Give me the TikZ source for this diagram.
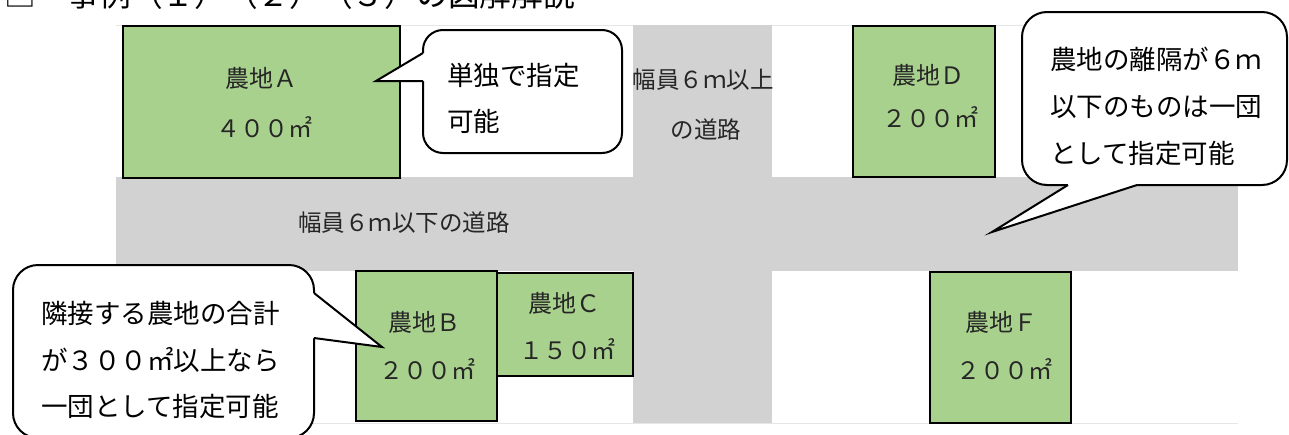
\documentclass[tikz,border=0pt]{standalone}
\usepackage{fontspec}
\newfontfamily\jp{Noto Sans CJK JP}
\definecolor{field}{HTML}{A9D18E}
\definecolor{road}{HTML}{D2D2D2}
\definecolor{frameline}{HTML}{E6E6E6}
\tikzset{
  roadbox/.style={fill=road,draw=none},
  fieldbox/.style={fill=field,draw=black,line width=2pt},
  lbl/.style={font=\jp\fontsize{24}{24}\selectfont,text=black!85,inner sep=0pt,text height=21.1pt,text depth=2.9pt},
  rlbl/.style={font=\jp\fontsize{23.5}{23.5}\selectfont,text=black!85,inner sep=0pt,text height=20.7pt,text depth=2.8pt},
  ctext/.style={font=\jp\fontsize{26.5}{26.5}\selectfont,text=black,inner sep=0pt,anchor=west,text height=23.3pt,text depth=3.2pt},
  callout/.style={draw=black,fill=white,line width=2pt,rounded corners=20pt},
  pointer/.style={draw=black,line width=2pt,line join=miter},
}
\begin{document}
\begin{tikzpicture}[x=1pt,y=-1pt]
\useasboundingbox (0,0) rectangle (1289,434);
\clip (0,0) rectangle (1289,434);
\fill[white] (0,0) rectangle (1289,434);
% title (cut off at top, as in the reference)
\node[anchor=base west,inner sep=0pt,font=\jp\fontsize{31.7}{31.7}\selectfont] (title) at (4,6.5) {□　事例（１）（２）（３）の図解解説};
% frame lines
\draw[frameline,line width=1pt] (116,25) -- (1238,25);
\draw[frameline,line width=1pt] (116,423) -- (1238,423);
% roads
\fill[roadbox] (116,177) rectangle (1238,271);
\fill[roadbox] (633,25) rectangle (772,423);
% fields
\draw[fieldbox] (123,26) rectangle (400,178);
\draw[fieldbox] (853,26) rectangle (995,177);
\draw[fieldbox] (356,271) rectangle (497,421);
\draw[fieldbox] (497,273) rectangle (633,376);
\draw[fieldbox] (930,272) rectangle (1071,423);
% field labels
\node[lbl] (a1) at (261,78) {農地Ａ};
\node[lbl] (a2) at (264,128) {４００㎡};
\node[lbl] (d1) at (928,75) {農地Ｄ};
\node[lbl] (d2) at (930,118) {２００㎡};
\node[lbl] (b1) at (424,322) {農地Ｂ};
\node[lbl] (b2) at (427,370) {２００㎡};
\node[lbl] (c1) at (564,303) {農地Ｃ};
\node[lbl] (c2) at (567,350) {１５０㎡};
\node[lbl] (f1) at (1001,322) {農地Ｆ};
\node[lbl] (f2) at (1004,370) {２００㎡};
% road labels
\node[rlbl] (rv1) at (703,80) {幅員６ｍ以上};
\node[rlbl] (rv2) at (706,130) {の道路};
\node[rlbl] (rh) at (404,223) {幅員６ｍ以下の道路};
% callout A
\draw[callout] (423,30) rectangle (622,153);
\coordinate (tipA) at (376,81);
\fill[white] (425.5,53) -- (423,53) -- (tipA) -- (423,81) -- (425.5,81) -- cycle;
\draw[pointer] (423,53) -- (tipA) -- (423,81);
\node[ctext] (ta1) at (447,75) {単独で指定};
\node[ctext] (ta2) at (447,121) {可能};
% callout D
\draw[callout,rounded corners=25pt] (1022,12) rectangle (1287,185);
\coordinate (tipD) at (992,232);
\fill[white] (1068,182.5) -- (1068,185) -- (tipD) -- (1137,185) -- (1137,182.5) -- cycle;
\draw[pointer] (1068,185) -- (tipD) -- (1137,185);
\node[ctext] (td1) at (1050,59) {農地の離隔が６ｍ};
\node[ctext] (td2) at (1050,106) {以下のものは一団};
\node[ctext] (td3) at (1050,153) {として指定可能};
% callout B
\draw[callout,rounded corners=25pt] (13,265) rectangle (314,438);
\coordinate (tipB) at (382,347);
\fill[white] (311.5,293) -- (314,293) -- (tipB) -- (314,338) -- (311.5,338) -- cycle;
\draw[pointer] (314,293) -- (tipB) -- (314,338);
\node[ctext] (tb1) at (41,313) {隣接する農地の合計};
\node[ctext] (tb2) at (41,360) {が３００㎡以上なら};
\node[ctext] (tb3) at (41,406) {一団として指定可能};
\end{tikzpicture}
\end{document}
